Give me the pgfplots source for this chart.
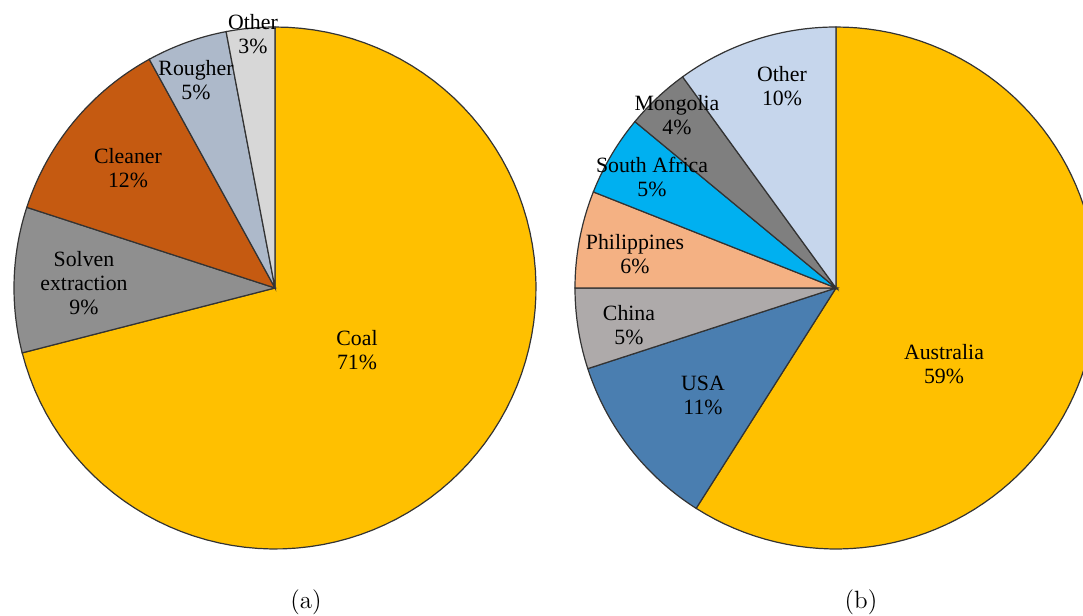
\documentclass[border=0pt]{standalone}
\usepackage{pgfplots}
\pgfplotsset{compat=1.18}
\usepackage{fontspec}
\newfontfamily\tnr{Liberation Serif}
\definecolor{cGold}{HTML}{FFC000}
\definecolor{cSolv}{HTML}{8F8F8F}
\definecolor{cClean}{HTML}{C55A11}
\definecolor{cRough}{HTML}{ADB9CA}
\definecolor{cOtherA}{HTML}{D7D7D7}
\definecolor{cUSA}{HTML}{4A7EB0}
\definecolor{cChina}{HTML}{AEAAAA}
\definecolor{cPhil}{HTML}{F4B183}
\definecolor{cSA}{HTML}{00B0F0}
\definecolor{cMong}{HTML}{7F7F7F}
\definecolor{cOtherB}{HTML}{C6D6EC}
% slice: centre x, centre y, cumulative % before, share %, colour
\newcommand{\slice}[5]{%
  \addplot[draw=black!80, line width=0.6pt, fill=#5, samples=90, variable=\t,
    domain={90-3.6*(#3+#4)}:{90-3.6*(#3)}]
    ({#1+261*cos(\t)},{#2+261*sin(\t)}) -- (axis cs:#1,#2) -- cycle;}
\newcommand{\lab}[3]{\node[font=\tnr\fontsize{10.9}{12}\selectfont, align=center, text=black] at (axis cs:#1,#2) {#3};}
\begin{document}
\begin{tikzpicture}
\begin{axis}[scale only axis, width=541.5pt, height=308pt,
  xmin=0, xmax=1083, ymin=0, ymax=616, hide axis, clip=true]
\path (rel axis cs:0,0) rectangle (rel axis cs:1,1);
% (a) shares in %
\slice{275}{328}{0}{71}{cGold}
\slice{275}{328}{71}{9}{cSolv}
\slice{275}{328}{80}{12}{cClean}
\slice{275}{328}{92}{5}{cRough}
\slice{275}{328}{97}{3}{cOtherA}
% (b) shares in %
\slice{836}{328}{0}{59}{cGold}
\slice{836}{328}{59}{11}{cUSA}
\slice{836}{328}{70}{5}{cChina}
\slice{836}{328}{75}{6}{cPhil}
\slice{836}{328}{81}{5}{cSA}
\slice{836}{328}{86}{4}{cMong}
\slice{836}{328}{90}{10}{cOtherB}
\lab{357}{266}{Coal\\71\%}
\lab{84}{333}{Solven\\extraction\\9\%}
\lab{128}{448}{Cleaner\\12\%}
\lab{196}{536}{Rougher\\5\%}
\lab{253}{582}{Other\\3\%}
\lab{944}{252}{Australia\\59\%}
\lab{703}{221}{USA\\11\%}
\lab{629}{291}{China\\5\%}
\lab{635}{362}{Philippines\\6\%}
\lab{652}{439}{South Africa\\5\%}
\lab{677}{501}{Mongolia\\4\%}
\lab{782}{530}{Other\\10\%}
\node[font=\fontsize{12.5}{14}\selectfont] at (axis cs:306,14) {(a)};
\node[font=\fontsize{12.5}{14}\selectfont] at (axis cs:861,14) {(b)};
\end{axis}
\end{tikzpicture}
\end{document}
